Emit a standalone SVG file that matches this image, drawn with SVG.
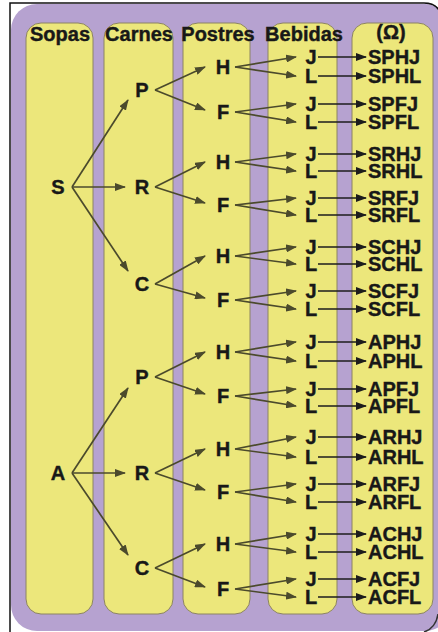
<svg xmlns="http://www.w3.org/2000/svg" width="438" height="632" viewBox="0 0 438 632">
<style>
.col{fill:#ECE77B;stroke:#8C8462;stroke-width:1}
.hd{font-family:"Liberation Sans",Arial,sans-serif;font-weight:bold;font-size:20px;fill:#181818;stroke:#181818;stroke-width:0.4;text-anchor:middle}
.n{font-family:"Liberation Sans",Arial,sans-serif;font-weight:bold;font-size:20px;fill:#181818;stroke:#181818;stroke-width:0.4;text-anchor:middle}
.o{font-family:"Liberation Sans",Arial,sans-serif;font-weight:bold;font-size:20px;fill:#181818;stroke:#181818;stroke-width:0.4;text-anchor:start}
.t{stroke:#4B4A2C;stroke-width:1.7;fill:none;marker-end:url(#ao)}
.f{stroke:#1c1c1c;stroke-width:1.7;fill:none;marker-end:url(#ab)}
</style>
<defs>
<marker id="ao" markerUnits="userSpaceOnUse" markerWidth="11" markerHeight="8" refX="10" refY="4" orient="auto"><path d="M0,0 L11,4 L0,8 z" fill="#4B4A2C"/></marker>
<marker id="ab" markerUnits="userSpaceOnUse" markerWidth="11" markerHeight="8" refX="10" refY="4" orient="auto"><path d="M0,0 L11,4 L0,8 z" fill="#1c1c1c"/></marker>
</defs>
<rect x="0" y="0" width="438" height="632" fill="#ffffff"/>
<rect x="11" y="4" width="440" height="627" rx="26" fill="#B6A2D0"/>
<path d="M10,632 V3 H424 Q436,3 440,12" fill="none" stroke="#111" stroke-width="1.5"/>
<path d="M438,614 Q436,628 424,632" fill="none" stroke="#333" stroke-width="1.5"/>
<g id="columns">
<rect class="col" x="26" y="23" width="67" height="591" rx="15"/>
<rect class="col" x="104" y="23" width="69" height="591" rx="15"/>
<rect class="col" x="183" y="23" width="67" height="591" rx="15"/>
<rect class="col" x="268" y="23" width="69" height="591" rx="15"/>
<rect class="col" x="352" y="23" width="81" height="591" rx="15"/>
</g>
<g id="headers">
<text class="hd" x="60" y="41">Sopas</text>
<text class="hd" x="139" y="41">Carnes</text>
<text class="hd" x="218" y="41">Postres</text>
<text class="hd" x="304" y="41">Bebidas</text>
<text class="hd" x="391" y="39">(Ω)</text>
</g>
<g id="connectors">
<line class="t" x1="72" y1="187" x2="128" y2="100"/>
<line class="t" x1="72" y1="187" x2="125" y2="187"/>
<line class="t" x1="72" y1="187" x2="128" y2="271"/>
<line class="t" x1="72" y1="473" x2="128" y2="388"/>
<line class="t" x1="72" y1="473" x2="125" y2="473"/>
<line class="t" x1="72" y1="473" x2="128" y2="555"/>
<line class="t" x1="155" y1="90" x2="205" y2="67"/>
<line class="t" x1="155" y1="90" x2="205" y2="110"/>
<line class="t" x1="155" y1="187" x2="205" y2="162"/>
<line class="t" x1="155" y1="187" x2="205" y2="203"/>
<line class="t" x1="155" y1="284" x2="205" y2="256"/>
<line class="t" x1="155" y1="284" x2="205" y2="298"/>
<line class="t" x1="155" y1="377" x2="205" y2="352"/>
<line class="t" x1="155" y1="377" x2="205" y2="394"/>
<line class="t" x1="155" y1="473" x2="205" y2="449"/>
<line class="t" x1="155" y1="473" x2="205" y2="490"/>
<line class="t" x1="155" y1="568" x2="205" y2="544"/>
<line class="t" x1="155" y1="568" x2="205" y2="587"/>
<line class="t" x1="235" y1="67" x2="296" y2="57"/>
<line class="t" x1="235" y1="67" x2="296" y2="76"/>
<line class="t" x1="235" y1="112" x2="296" y2="104"/>
<line class="t" x1="235" y1="112" x2="296" y2="122"/>
<line class="t" x1="235" y1="162" x2="296" y2="154"/>
<line class="t" x1="235" y1="162" x2="296" y2="171"/>
<line class="t" x1="235" y1="205" x2="296" y2="198"/>
<line class="t" x1="235" y1="205" x2="296" y2="215"/>
<line class="t" x1="235" y1="256" x2="296" y2="247"/>
<line class="t" x1="235" y1="256" x2="296" y2="264"/>
<line class="t" x1="235" y1="300" x2="296" y2="291"/>
<line class="t" x1="235" y1="300" x2="296" y2="309"/>
<line class="t" x1="235" y1="352" x2="296" y2="342"/>
<line class="t" x1="235" y1="352" x2="296" y2="361"/>
<line class="t" x1="235" y1="396" x2="296" y2="389"/>
<line class="t" x1="235" y1="396" x2="296" y2="406"/>
<line class="t" x1="235" y1="449" x2="296" y2="437"/>
<line class="t" x1="235" y1="449" x2="296" y2="457"/>
<line class="t" x1="235" y1="492" x2="296" y2="484"/>
<line class="t" x1="235" y1="492" x2="296" y2="502"/>
<line class="t" x1="235" y1="544" x2="296" y2="534"/>
<line class="t" x1="235" y1="544" x2="296" y2="552"/>
<line class="t" x1="235" y1="589" x2="296" y2="579"/>
<line class="t" x1="235" y1="589" x2="296" y2="597"/>
<line class="f" x1="318" y1="57" x2="366" y2="57"/>
<line class="f" x1="318" y1="76" x2="366" y2="76"/>
<line class="f" x1="318" y1="104" x2="366" y2="104"/>
<line class="f" x1="318" y1="122" x2="366" y2="122"/>
<line class="f" x1="318" y1="154" x2="366" y2="154"/>
<line class="f" x1="318" y1="171" x2="366" y2="171"/>
<line class="f" x1="318" y1="198" x2="366" y2="198"/>
<line class="f" x1="318" y1="215" x2="366" y2="215"/>
<line class="f" x1="318" y1="247" x2="366" y2="247"/>
<line class="f" x1="318" y1="264" x2="366" y2="264"/>
<line class="f" x1="318" y1="291" x2="366" y2="291"/>
<line class="f" x1="318" y1="309" x2="366" y2="309"/>
<line class="f" x1="318" y1="342" x2="366" y2="342"/>
<line class="f" x1="318" y1="361" x2="366" y2="361"/>
<line class="f" x1="318" y1="389" x2="366" y2="389"/>
<line class="f" x1="318" y1="406" x2="366" y2="406"/>
<line class="f" x1="318" y1="437" x2="366" y2="437"/>
<line class="f" x1="318" y1="457" x2="366" y2="457"/>
<line class="f" x1="318" y1="484" x2="366" y2="484"/>
<line class="f" x1="318" y1="502" x2="366" y2="502"/>
<line class="f" x1="318" y1="534" x2="366" y2="534"/>
<line class="f" x1="318" y1="552" x2="366" y2="552"/>
<line class="f" x1="318" y1="579" x2="366" y2="579"/>
<line class="f" x1="318" y1="597" x2="366" y2="597"/>
</g>
<g id="node-S"><text class="n" x="58" y="194">S</text></g>
<g id="node-A"><text class="n" x="58" y="480">A</text></g>
<g id="node-SP"><text class="n" x="142" y="97">P</text></g>
<g id="node-SR"><text class="n" x="142" y="194">R</text></g>
<g id="node-SC"><text class="n" x="142" y="291">C</text></g>
<g id="node-AP"><text class="n" x="142" y="384">P</text></g>
<g id="node-AR"><text class="n" x="142" y="480">R</text></g>
<g id="node-AC"><text class="n" x="142" y="575">C</text></g>
<g id="node-SPH"><text class="n" x="223" y="74">H</text></g>
<g id="node-SPF"><text class="n" x="223" y="119">F</text></g>
<g id="node-SRH"><text class="n" x="223" y="169">H</text></g>
<g id="node-SRF"><text class="n" x="223" y="212">F</text></g>
<g id="node-SCH"><text class="n" x="223" y="263">H</text></g>
<g id="node-SCF"><text class="n" x="223" y="307">F</text></g>
<g id="node-APH"><text class="n" x="223" y="359">H</text></g>
<g id="node-APF"><text class="n" x="223" y="403">F</text></g>
<g id="node-ARH"><text class="n" x="223" y="456">H</text></g>
<g id="node-ARF"><text class="n" x="223" y="499">F</text></g>
<g id="node-ACH"><text class="n" x="223" y="551">H</text></g>
<g id="node-ACF"><text class="n" x="223" y="596">F</text></g>
<g id="node-SPHJ-b"><text class="n" x="311" y="64">J</text></g>
<g id="node-SPHL-b"><text class="n" x="311" y="83">L</text></g>
<g id="node-SPFJ-b"><text class="n" x="311" y="111">J</text></g>
<g id="node-SPFL-b"><text class="n" x="311" y="129">L</text></g>
<g id="node-SRHJ-b"><text class="n" x="311" y="161">J</text></g>
<g id="node-SRHL-b"><text class="n" x="311" y="178">L</text></g>
<g id="node-SRFJ-b"><text class="n" x="311" y="205">J</text></g>
<g id="node-SRFL-b"><text class="n" x="311" y="222">L</text></g>
<g id="node-SCHJ-b"><text class="n" x="311" y="254">J</text></g>
<g id="node-SCHL-b"><text class="n" x="311" y="271">L</text></g>
<g id="node-SCFJ-b"><text class="n" x="311" y="298">J</text></g>
<g id="node-SCFL-b"><text class="n" x="311" y="316">L</text></g>
<g id="node-APHJ-b"><text class="n" x="311" y="349">J</text></g>
<g id="node-APHL-b"><text class="n" x="311" y="368">L</text></g>
<g id="node-APFJ-b"><text class="n" x="311" y="396">J</text></g>
<g id="node-APFL-b"><text class="n" x="311" y="413">L</text></g>
<g id="node-ARHJ-b"><text class="n" x="311" y="444">J</text></g>
<g id="node-ARHL-b"><text class="n" x="311" y="464">L</text></g>
<g id="node-ARFJ-b"><text class="n" x="311" y="491">J</text></g>
<g id="node-ARFL-b"><text class="n" x="311" y="509">L</text></g>
<g id="node-ACHJ-b"><text class="n" x="311" y="541">J</text></g>
<g id="node-ACHL-b"><text class="n" x="311" y="559">L</text></g>
<g id="node-ACFJ-b"><text class="n" x="311" y="586">J</text></g>
<g id="node-ACFL-b"><text class="n" x="311" y="604">L</text></g>
<g id="out-SPHJ"><text class="o" x="368" y="64">SPHJ</text></g>
<g id="out-SPHL"><text class="o" x="368" y="83">SPHL</text></g>
<g id="out-SPFJ"><text class="o" x="368" y="111">SPFJ</text></g>
<g id="out-SPFL"><text class="o" x="368" y="129">SPFL</text></g>
<g id="out-SRHJ"><text class="o" x="368" y="161">SRHJ</text></g>
<g id="out-SRHL"><text class="o" x="368" y="178">SRHL</text></g>
<g id="out-SRFJ"><text class="o" x="368" y="205">SRFJ</text></g>
<g id="out-SRFL"><text class="o" x="368" y="222">SRFL</text></g>
<g id="out-SCHJ"><text class="o" x="368" y="254">SCHJ</text></g>
<g id="out-SCHL"><text class="o" x="368" y="271">SCHL</text></g>
<g id="out-SCFJ"><text class="o" x="368" y="298">SCFJ</text></g>
<g id="out-SCFL"><text class="o" x="368" y="316">SCFL</text></g>
<g id="out-APHJ"><text class="o" x="368" y="349">APHJ</text></g>
<g id="out-APHL"><text class="o" x="368" y="368">APHL</text></g>
<g id="out-APFJ"><text class="o" x="368" y="396">APFJ</text></g>
<g id="out-APFL"><text class="o" x="368" y="413">APFL</text></g>
<g id="out-ARHJ"><text class="o" x="368" y="444">ARHJ</text></g>
<g id="out-ARHL"><text class="o" x="368" y="464">ARHL</text></g>
<g id="out-ARFJ"><text class="o" x="368" y="491">ARFJ</text></g>
<g id="out-ARFL"><text class="o" x="368" y="509">ARFL</text></g>
<g id="out-ACHJ"><text class="o" x="368" y="541">ACHJ</text></g>
<g id="out-ACHL"><text class="o" x="368" y="559">ACHL</text></g>
<g id="out-ACFJ"><text class="o" x="368" y="586">ACFJ</text></g>
<g id="out-ACFL"><text class="o" x="368" y="604">ACFL</text></g>
</svg>
